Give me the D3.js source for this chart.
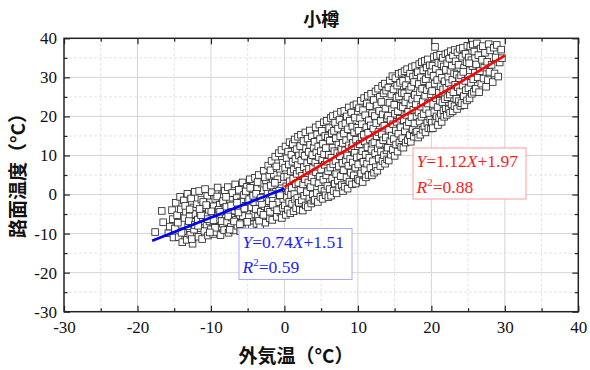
<!DOCTYPE html>
<html>
<head>
<meta charset="utf-8">
<script src="https://cdn.jsdelivr.net/npm/d3@7"></script>
<style>
  html, body { margin: 0; padding: 0; background: #fff; }
  svg { display: block; }
</style>
</head>
<body>
<svg id="chart" width="590" height="370"></svg>
<script>
// Air temperature (x) vs. road-surface temperature (y), °C — Otaru
const xTicks = [-30, -20, -10, 0, 10, 20, 30, 40];
const yTicks = [-30, -20, -10, 0, 10, 20, 30, 40];

// Observations with air temperature below 0 °C
const coldReadings = [
  [-17.6,-9.6],[-16.5,-7.1],[-16.7,-4.2],[-15.3,-4.0],[-15.8,-9.9],[-15.2,-6.3],[-15.6,-8.2],[-15.1,-11.0],
  [-14.8,-2.1],[-14.6,-5.3],[-14.9,-8.7],[-14.4,-10.9],[-14.2,-0.6],[-14.1,-3.8],[-14.5,-7.2],[-13.9,-12.2],[-13.7,-1.5],[-13.6,-6.0],
  [-13.8,-9.4],[-13.4,-4.4],[-13.3,-11.6],[-13.2,0.2],[-13.5,-2.9],[-13.1,-8.1],[-12.9,-5.6],[-12.8,-10.3],[-12.7,-1.0],[-12.6,-7.0],
  [-12.5,-12.6],[-12.4,-3.3],[-12.3,-9.0],[-12.2,0.7],[-12.1,-5.0],[-12.6,-11.4],[-13.0,-6.8],[-14.0,-9.8],[-12.9,-3.8],[-12.2,-7.8],
  [-11.9,-2.5],[-11.8,-6.4],[-11.7,-10.8],[-11.6,0.9],[-11.5,-4.7],[-11.4,-8.6],[-11.3,-1.3],[-11.2,-11.4],[-11.1,-6.0],[-11.0,-3.2],
  [-10.9,-9.3],[-10.8,1.4],[-10.7,-5.2],[-10.6,-7.7],[-10.5,-0.4],[-10.4,-10.5],[-10.3,-3.9],[-10.2,-6.9],[-10.1,-2.0],[-10.0,-8.9],
  [-9.9,0.6],[-9.8,-5.6],[-9.7,-10.1],[-9.6,-3.0],[-9.5,-7.3],[-9.4,-1.1],[-9.3,-9.6],[-9.2,-4.6],[-9.1,1.8],[-9.0,-6.4],
  [-8.9,-8.2],[-8.8,-2.6],[-8.7,-10.4],[-8.6,-5.0],[-8.5,-0.2],[-8.4,-7.5],[-8.3,-3.6],[-8.2,-9.1],[-8.1,1.0],[-8.0,-5.9],
  [-11.75,-8.0],[-11.05,-1.9],[-10.45,-6.3],[-9.95,-4.3],[-9.45,-8.5],[-8.95,-3.9],[-8.55,-6.8],[-10.65,-2.7],[-11.35,-5.3],[-9.15,-0.5],
  [-8.35,-1.7],[-10.15,-9.7],[-11.55,-3.7],[-9.65,-6.6],[-8.75,-4.4],
  [-7.9,-3.1],[-7.8,-7.0],[-7.7,1.9],[-7.6,-9.8],[-7.5,-4.8],[-7.4,-1.4],[-7.3,-8.3],[-7.2,-5.9],[-7.1,0.4],[-7.0,-2.5],
  [-6.9,-9.2],[-6.8,-4.1],[-6.7,2.6],[-6.6,-6.5],[-6.5,-0.9],[-6.4,-8.0],[-6.3,-3.4],[-6.2,1.2],[-6.1,-5.4],[-6.0,-9.4],
  [-5.9,-1.8],[-5.8,-7.2],[-5.7,3.1],[-5.6,-4.3],[-5.5,-0.1],[-5.4,-8.7],[-5.3,-2.9],[-5.2,-6.1],[-5.1,2.0],[-5.0,-4.9],
  [-4.9,-8.0],[-4.8,-1.2],[-4.7,3.9],[-4.6,-6.6],[-4.5,-3.3],[-4.4,0.8],[-4.3,-7.6],[-4.2,-5.1],[-4.1,-2.0],[-4.0,4.3],
  [-7.65,-5.6],[-7.25,-2.8],[-6.85,-6.9],[-6.45,-2.1],[-6.05,-7.6],[-5.65,-5.5],[-5.25,0.8],[-4.85,-5.8],[-4.45,-8.4],[-7.95,-0.6],
  [-6.25,-4.6],[-5.45,-3.6],[-4.65,1.7],[-7.45,-9.0],[-5.05,-7.0],[-4.25,-0.3],
  [-3.9,-3.7],[-3.8,-7.5],[-3.7,1.6],[-3.6,-5.6],[-3.5,5.0],[-3.4,-1.9],[-3.3,-8.1],[-3.2,-4.4],[-3.1,2.8],[-3.0,-6.3],
  [-2.9,-0.6],[-2.8,6.1],[-2.7,-3.0],[-2.6,-7.2],[-2.5,3.6],[-2.4,-5.0],[-2.3,0.5],[-2.2,7.4],[-2.1,-1.7],[-2.0,-6.1],
  [-3.85,0.2],[-3.45,-6.7],[-3.05,-2.4],[-2.65,4.4],[-2.25,-3.9],[-3.65,3.2],[-2.85,-5.2],[-2.45,1.9],[-3.25,-0.9],[-2.05,4.8],
  [-1.95,-4.4],[-1.85,2.3],[-1.75,8.6],[-1.65,-6.5],[-1.55,-1.0],[-1.45,5.1],[-1.35,-3.2],[-1.25,9.7],[-1.15,0.7],[-1.05,-5.7],
  [-0.95,3.9],[-0.85,-2.0],[-0.75,10.6],[-0.65,6.6],[-0.55,-4.6],[-0.45,1.6],[-0.35,-6.0],[-0.25,8.1],[-0.15,-1.3],[-0.05,4.5],
  [-1.9,6.2],[-1.6,-2.6],[-1.3,3.0],[-1.0,-4.0],[-0.7,1.0],[-0.4,11.4],[-0.2,-3.4],[-1.7,0.1],[-1.1,7.2],[-0.6,-0.2]
];

// Observations with air temperature at or above 0 °C
const warmReadings = [
  [0.05,-2.8],[0.1,6.9],[0.15,12.3],[0.2,-5.2],[0.25,2.1],[0.3,9.3],[0.35,-0.6],[0.4,4.6],[0.45,-3.9],[0.5,11.0],
  [0.55,0.8],[0.6,7.7],[0.65,-1.9],[0.7,13.4],[0.75,3.4],[0.8,-4.8],[0.85,5.9],[0.9,-0.1],[0.95,10.2],[1.0,1.7],
  [1.05,-2.4],[1.1,8.4],[1.15,12.9],[1.2,4.0],[1.25,-4.3],[1.3,6.4],[1.35,0.1],[1.4,14.1],[1.45,-1.3],[1.5,9.1],
  [1.55,2.7],[1.6,-3.5],[1.65,11.6],[1.7,5.3],[1.75,-0.9],[1.8,7.5],[1.85,14.8],[1.9,3.0],[1.95,-2.1],[1.98,10.0],
  [2.05,6.1],[2.1,-3.9],[2.15,12.4],[2.2,1.2],[2.25,15.3],[2.3,8.7],[2.35,-1.5],[2.4,4.8],[2.45,10.6],[2.5,-4.1],
  [2.55,2.6],[2.6,13.7],[2.65,7.0],[2.7,-0.3],[2.75,9.9],[2.8,3.9],[2.85,15.9],[2.9,-2.8],[2.95,11.8],[3.0,5.5],
  [3.05,0.6],[3.1,8.0],[3.15,14.3],[3.2,-3.2],[3.25,3.1],[3.3,10.9],[3.35,6.6],[3.4,-1.0],[3.45,16.4],[3.5,12.7],
  [3.55,1.9],[3.6,8.8],[3.65,-2.3],[3.7,4.4],[3.75,14.9],[3.8,10.1],[3.85,0.0],[3.9,6.9],[3.95,-1.6],[3.98,12.0],
  [4.05,3.3],[4.1,13.5],[4.15,-1.4],[4.2,8.2],[4.25,17.2],[4.3,5.7],[4.35,10.8],[4.4,0.4],[4.45,15.4],[4.5,7.1],
  [4.55,-1.9],[4.6,12.3],[4.65,2.9],[4.7,9.6],[4.75,17.9],[4.8,4.6],[4.85,14.2],[4.9,-0.6],[4.95,11.1],[5.0,6.4],
  [5.05,1.5],[5.1,16.3],[5.15,8.9],[5.2,-1.1],[5.25,13.0],[5.3,3.8],[5.35,18.5],[5.4,10.3],[5.45,0.9],[5.5,7.6],
  [5.55,15.0],[5.6,-0.2],[5.65,11.9],[5.7,4.9],[5.75,18.9],[5.8,8.4],[5.85,2.2],[5.9,14.6],[5.95,6.0],[5.98,-0.7],
  [6.05,10.2],[6.1,17.0],[6.15,1.4],[6.2,13.8],[6.25,6.9],[6.3,19.6],[6.35,-0.3],[6.4,9.4],[6.45,15.7],[6.5,4.1],
  [6.55,12.0],[6.6,20.1],[6.65,7.8],[6.7,0.9],[6.75,16.3],[6.8,11.1],[6.85,2.8],[6.9,18.4],[6.95,8.6],[7.0,14.4],
  [7.05,5.2],[7.1,0.3],[7.15,20.5],[7.2,10.6],[7.25,3.6],[7.3,16.9],[7.35,12.8],[7.4,7.3],[7.45,1.8],[7.5,19.1],
  [7.55,9.8],[7.6,14.9],[7.65,4.7],[7.7,21.2],[7.75,11.7],[7.8,2.4],[7.85,17.8],[7.9,8.1],[7.95,13.2],[7.98,0.9],
  [8.05,6.2],[8.1,15.6],[8.15,21.4],[8.2,2.0],[8.25,11.3],[8.3,18.2],[8.35,8.7],[8.4,13.9],[8.45,4.4],[8.5,20.0],
  [8.55,10.0],[8.6,1.5],[8.65,16.7],[8.7,7.4],[8.75,22.3],[8.8,12.6],[8.85,3.3],[8.9,18.9],[8.95,9.1],[9.0,14.8],
  [9.05,5.6],[9.1,21.0],[9.15,11.9],[9.2,2.6],[9.25,17.4],[9.3,8.2],[9.35,13.2],[9.4,22.8],[9.45,4.9],[9.5,15.9],
  [9.55,10.7],[9.6,19.7],[9.65,6.9],[9.7,2.8],[9.75,14.0],[9.8,23.1],[9.85,9.5],[9.9,17.1],[9.95,12.4],[9.98,4.0],
  [10.05,7.7],[10.1,16.3],[10.15,22.1],[10.2,3.6],[10.25,12.9],[10.3,19.5],[10.35,9.8],[10.4,24.0],[10.45,5.4],[10.5,14.7],
  [10.55,18.0],[10.6,11.1],[10.65,3.2],[10.7,21.6],[10.75,8.4],[10.8,15.3],[10.85,24.7],[10.9,6.3],[10.95,13.6],[11.0,20.3],
  [11.05,10.2],[11.1,4.4],[11.15,17.2],[11.2,23.3],[11.25,7.9],[11.3,12.1],[11.35,25.3],[11.4,15.8],[11.45,5.0],[11.5,19.0],
  [11.55,9.4],[11.6,22.6],[11.65,14.1],[11.7,6.8],[11.75,17.7],[11.8,25.8],[11.85,11.5],[11.9,4.9],[11.95,20.8],[11.98,13.0],
  [12.05,8.5],[12.1,16.9],[12.15,24.2],[12.2,5.6],[12.25,13.4],[12.3,20.1],[12.35,10.6],[12.4,26.4],[12.45,7.0],[12.5,18.3],
  [12.55,14.9],[12.6,22.8],[12.65,6.1],[12.7,11.8],[12.75,27.1],[12.8,16.0],[12.85,9.2],[12.9,21.4],[12.95,13.0],[13.0,25.0],
  [13.05,7.3],[13.1,18.9],[13.15,11.0],[13.2,23.7],[13.25,15.4],[13.3,27.8],[13.35,8.6],[13.4,20.5],[13.45,13.9],[13.5,25.9],
  [13.55,10.1],[13.6,17.6],[13.65,28.4],[13.7,7.9],[13.75,22.0],[13.8,14.6],[13.85,26.6],[13.9,11.3],[13.95,19.6],[13.98,9.0],
  [14.05,12.0],[14.1,20.2],[14.15,27.4],[14.2,8.7],[14.25,16.6],[14.3,23.5],[14.35,29.2],[14.4,13.7],[14.45,19.1],[14.5,10.2],
  [14.55,25.6],[14.6,15.1],[14.65,21.8],[14.7,30.3],[14.75,11.4],[14.8,18.0],[14.85,26.9],[14.9,14.2],[14.95,23.0],[15.0,9.9],
  [15.05,20.7],[15.1,29.8],[15.15,16.4],[15.2,12.8],[15.25,24.8],[15.3,18.6],[15.35,27.9],[15.4,11.0],[15.45,21.3],[15.5,15.6],
  [15.55,30.9],[15.6,25.1],[15.65,13.3],[15.7,19.4],[15.75,28.6],[15.8,17.2],[15.85,22.7],[15.9,12.2],[15.95,31.2],[15.98,26.0],
  [16.05,14.4],[16.1,22.4],[16.15,29.1],[16.2,12.0],[16.25,19.0],[16.3,25.9],[16.35,31.6],[16.4,16.2],[16.45,23.6],[16.5,13.3],
  [16.55,28.0],[16.6,20.4],[16.65,17.6],[16.7,32.1],[16.75,25.0],[16.8,13.9],[16.85,21.2],[16.9,29.7],[16.95,18.5],[17.0,26.8],
  [17.05,15.2],[17.1,31.0],[17.15,22.9],[17.2,13.5],[17.25,27.6],[17.3,19.8],[17.35,32.6],[17.4,24.3],[17.45,16.7],[17.5,30.2],
  [17.55,21.7],[17.6,14.8],[17.65,28.8],[17.7,18.2],[17.75,25.5],[17.8,32.9],[17.85,15.9],[17.9,23.1],[17.95,30.6],[17.98,20.0],
  [18.05,16.1],[18.1,24.6],[18.15,31.3],[18.2,14.6],[18.25,21.0],[18.3,28.3],[18.35,33.4],[18.4,18.7],[18.45,26.2],[18.5,15.3],
  [18.55,30.0],[18.6,22.5],[18.65,19.9],[18.7,33.9],[18.75,27.1],[18.8,16.6],[18.85,23.8],[18.9,31.8],[18.95,20.6],[19.0,29.0],
  [19.05,17.4],[19.1,34.2],[19.15,25.3],[19.2,15.9],[19.25,29.5],[19.3,21.9],[19.35,32.5],[19.4,26.7],[19.45,18.3],[19.5,34.6],
  [19.55,23.3],[19.6,17.0],[19.65,30.8],[19.7,20.8],[19.75,27.9],[19.8,33.1],[19.85,19.2],[19.9,25.7],[19.95,16.9],[19.98,31.5],
  [20.05,18.4],[20.1,26.5],[20.15,33.0],[20.2,17.0],[20.25,23.2],[20.3,30.4],[20.35,35.2],[20.4,21.1],[20.45,28.4],[20.5,37.8],
  [20.55,18.9],[20.6,32.2],[20.65,24.7],[20.7,20.0],[20.75,35.5],[20.8,29.3],[20.85,22.4],[20.9,17.8],[20.95,33.7],[21.0,26.0],
  [21.05,19.6],[21.1,31.1],[21.15,24.0],[21.2,35.8],[21.25,27.7],[21.3,20.7],[21.35,33.4],[21.4,18.6],[21.45,29.9],[21.5,23.6],
  [21.55,35.0],[21.6,26.9],[21.65,21.5],[21.7,32.8],[21.75,19.9],[21.8,29.0],[21.85,24.4],[21.9,35.9],[21.95,22.0],[21.98,31.9],
  [22.05,27.3],[22.1,20.4],[22.15,33.6],[22.2,24.9],[22.25,36.2],[22.3,30.1],[22.35,21.8],[22.4,28.5],[22.45,34.8],[22.5,25.6],
  [22.55,20.9],[22.6,31.7],[22.65,36.7],[22.7,27.0],[22.75,23.0],[22.8,33.0],[22.85,29.4],[22.9,21.3],[22.95,35.6],[23.0,26.2],
  [23.1,31.0],[23.15,22.6],[23.2,37.0],[23.25,28.1],[23.3,34.1],[23.4,24.5],[23.45,30.7],[23.5,21.9],[23.55,36.4],[23.6,27.5],
  [23.7,33.2],[23.75,23.9],[23.8,29.8],[23.85,37.3],[23.9,26.4],[23.95,22.7],
  [24.05,30.5],[24.1,23.4],[24.2,35.3],[24.25,27.9],[24.3,37.6],[24.4,25.2],[24.45,32.4],[24.5,22.9],[24.6,29.1],[24.65,36.0],
  [24.7,26.7],[24.8,33.9],[24.85,24.1],[24.9,38.1],[25.0,30.9],[25.05,27.2],[25.1,35.1],[25.2,24.6],[25.25,31.8],[25.3,37.9],
  [25.4,28.6],[25.45,34.4],[25.5,25.8],[25.6,32.9],[25.65,38.4],[25.7,29.5],[25.8,26.3],[25.85,36.6],[25.9,31.2],[25.95,34.9],
  [24.35,31.4],[25.15,33.6],
  [26.05,27.1],[26.1,33.3],[26.2,38.7],[26.3,30.0],[26.4,35.7],[26.5,26.2],[26.6,31.6],[26.7,37.4],[26.8,28.4],[26.9,34.5],
  [27.0,38.0],[27.1,29.7],[27.2,32.5],[27.3,36.3],[27.45,27.6],[27.6,34.0],[27.7,29.3],[27.8,38.5],[27.9,31.4],[28.0,36.9],
  [28.2,33.2],[28.35,28.8],[28.5,37.6],[28.6,31.0],[28.75,35.1],[28.9,38.3],[29.1,30.2],[29.3,33.8],[29.6,34.9],[29.5,37.1]
];

// Linear fits for each temperature range
const coldFit = { slope: 0.74, intercept: 1.51, r2: "0.59", range: [-18, 0] };
const warmFit = { slope: 1.12, intercept: 1.97, r2: "0.88", range: [0, 30] };

const svg = d3.select("#chart");
const plot = { left: 64, right: 578.3, top: 38.3, bottom: 311.7 };

const x = d3.scaleLinear().domain([-30, 40]).range([plot.left, plot.right]);
const y = d3.scaleLinear().domain([-30, 40]).range([plot.bottom, plot.top]);

const minorX = d3.range(-25, 40, 10);
const minorY = d3.range(-25, 40, 10);

// Grid: solid major lines, dashed minor lines
const grid = svg.append("g");
grid.selectAll(".gx").data(xTicks.slice(1, -1)).join("line")
  .attr("x1", d => x(d)).attr("x2", d => x(d))
  .attr("y1", plot.top).attr("y2", plot.bottom)
  .attr("stroke", "#d4d4d4").attr("stroke-width", 1);
grid.selectAll(".gy").data(yTicks.slice(1, -1)).join("line")
  .attr("x1", plot.left).attr("x2", plot.right)
  .attr("y1", d => y(d)).attr("y2", d => y(d))
  .attr("stroke", "#d4d4d4").attr("stroke-width", 1);
grid.selectAll(".mx").data(minorX).join("line")
  .attr("x1", d => x(d)).attr("x2", d => x(d))
  .attr("y1", plot.top).attr("y2", plot.bottom)
  .attr("stroke", "#dcdcdc").attr("stroke-width", 0.8).attr("stroke-dasharray", "3,2");
grid.selectAll(".my").data(minorY).join("line")
  .attr("x1", plot.left).attr("x2", plot.right)
  .attr("y1", d => y(d)).attr("y2", d => y(d))
  .attr("stroke", "#dcdcdc").attr("stroke-width", 0.8).attr("stroke-dasharray", "3,2");

// Scatter: open squares
const S = 6.6;
const points = svg.append("g");
points.selectAll("rect").data(coldReadings.concat(warmReadings)).join("rect")
  .attr("x", d => x(d[0]) - S / 2)
  .attr("y", d => y(d[1]) - S / 2)
  .attr("width", S).attr("height", S)
  .attr("fill", "#fff").attr("stroke", "#2a2a2a").attr("stroke-width", 0.85);

// Fit lines
function fitLine(fit, color) {
  const pts = fit.range.map(v => [v, fit.slope * v + fit.intercept]);
  svg.append("path")
    .attr("d", d3.line().x(d => x(d[0])).y(d => y(d[1]))(pts))
    .attr("stroke", color).attr("stroke-width", 2.7).attr("fill", "none");
}
fitLine(coldFit, "#0000ff");
fitLine(warmFit, "#ff0000");

// Axes (ticks point inward)
const fmt = d => String(d);
const axisFont = "'Liberation Serif', 'Times New Roman', serif";

function styleAxis(g) {
  g.select(".domain").remove();
  g.selectAll(".tick line").attr("stroke", "#222").attr("stroke-width", 1.2);
  g.selectAll("text").attr("font-family", axisFont).attr("font-size", 17).attr("fill", "#111");
}

svg.append("g").attr("transform", `translate(0,${plot.bottom})`)
  .call(d3.axisBottom(x).tickValues(xTicks).tickFormat(fmt).tickSizeInner(-6).tickSizeOuter(0).tickPadding(9))
  .call(styleAxis);
svg.append("g").attr("transform", `translate(0,${plot.bottom})`)
  .call(d3.axisBottom(x).tickValues(minorX).tickFormat("").tickSizeInner(-3.5).tickSizeOuter(0))
  .call(styleAxis);
svg.append("g").attr("transform", `translate(0,${plot.top})`)
  .call(d3.axisTop(x).tickValues(xTicks).tickFormat("").tickSizeInner(-6).tickSizeOuter(0))
  .call(styleAxis);
svg.append("g").attr("transform", `translate(0,${plot.top})`)
  .call(d3.axisTop(x).tickValues(minorX).tickFormat("").tickSizeInner(-3.5).tickSizeOuter(0))
  .call(styleAxis);

svg.append("g").attr("transform", `translate(${plot.left},0)`)
  .call(d3.axisLeft(y).tickValues(yTicks).tickFormat(fmt).tickSizeInner(-6).tickSizeOuter(0).tickPadding(7))
  .call(styleAxis);
svg.append("g").attr("transform", `translate(${plot.left},0)`)
  .call(d3.axisLeft(y).tickValues(minorY).tickFormat("").tickSizeInner(-3.5).tickSizeOuter(0))
  .call(styleAxis);
svg.append("g").attr("transform", `translate(${plot.right},0)`)
  .call(d3.axisRight(y).tickValues(yTicks).tickFormat("").tickSizeInner(-6).tickSizeOuter(0))
  .call(styleAxis);
svg.append("g").attr("transform", `translate(${plot.right},0)`)
  .call(d3.axisRight(y).tickValues(minorY).tickFormat("").tickSizeInner(-3.5).tickSizeOuter(0))
  .call(styleAxis);

// Frame
svg.append("rect")
  .attr("x", plot.left).attr("y", plot.top)
  .attr("width", plot.right - plot.left).attr("height", plot.bottom - plot.top)
  .attr("fill", "none").attr("stroke", "#222").attr("stroke-width", 1.5);

// Equation boxes
function equationBox(fit, color, border, box) {
  const g = svg.append("g");
  g.append("rect")
    .attr("x", box.x).attr("y", box.y).attr("width", box.w).attr("height", box.h)
    .attr("fill", "#fff").attr("stroke", border).attr("stroke-width", 1);
  const t1 = g.append("text")
    .attr("x", box.x + 3.5).attr("y", box.y + 19)
    .attr("font-family", axisFont).attr("font-size", 17.5).attr("fill", color);
  t1.append("tspan").attr("font-style", "italic").text("Y");
  t1.append("tspan").text("=" + fit.slope.toFixed(2));
  t1.append("tspan").attr("font-style", "italic").text("X");
  t1.append("tspan").text("+" + fit.intercept.toFixed(2));
  const t2 = g.append("text")
    .attr("x", box.x + 3.5).attr("y", box.y + 44.5)
    .attr("font-family", axisFont).attr("font-size", 17.5).attr("fill", color);
  t2.append("tspan").attr("font-style", "italic").text("R");
  t2.append("tspan").attr("font-size", 11).attr("dy", -7).text("2");
  t2.append("tspan").attr("dy", 7).text("=" + fit.r2);
}
equationBox(warmFit, "#ff1a1a", "#ff9c9c", { x: 413, y: 148, w: 113, h: 51 });
equationBox(coldFit, "#2222ff", "#a8a8ff", { x: 239, y: 228.5, w: 113, h: 51 });

// Titles
const cjkFont = "'Noto Sans CJK JP', 'Noto Sans', sans-serif";
svg.append("text")
  .attr("x", (plot.left + plot.right) / 2).attr("y", 25.5)
  .attr("text-anchor", "middle")
  .attr("font-family", cjkFont).attr("font-size", 18).attr("font-weight", 700)
  .attr("fill", "#111").text("小樽");
svg.append("text")
  .attr("x", 296).attr("y", 362.5)
  .attr("text-anchor", "middle")
  .attr("font-family", cjkFont).attr("font-size", 19).attr("font-weight", 700)
  .attr("fill", "#111").text("外気温（°C）");
svg.append("text")
  .attr("transform", "translate(25,171) rotate(-90)")
  .attr("text-anchor", "middle")
  .attr("font-family", cjkFont).attr("font-size", 19).attr("font-weight", 700)
  .attr("fill", "#111").text("路面温度（°C）");
</script>
</body>
</html>
